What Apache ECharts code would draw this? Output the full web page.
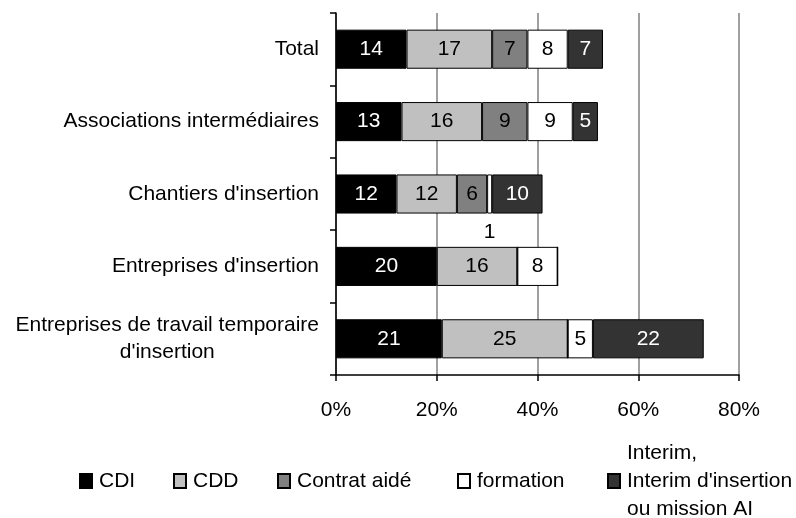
<!DOCTYPE html>
<html>
<head>
<meta charset="utf-8">
<script src="https://cdn.jsdelivr.net/npm/echarts@6/dist/echarts.min.js"></script>
<style>
  html, body { margin: 0; padding: 0; background: #fff; }
  #chart { width: 796px; height: 518px; }
</style>
</head>
<body>
<div id="chart"></div>
<script>
// Categories (top to bottom) and the share of each outcome, in %
const categories = [
  'Total',
  'Associations intermédiaires',
  "Chantiers d'insertion",
  "Entreprises d'insertion",
  "Entreprises de travail temporaire\nd'insertion"
];
const cdi         = [14, 13, 12, 20, 21];
const cdd         = [17, 16, 12, 16, 25];
const contratAide = [7, 9, 6, 0, 0];
const formation   = [8, 9, 1, 8, 5];
const interim     = [7, 5, 10, 0, 22];

const xTicks = [0, 20, 40, 60, 80];

const seriesNames = ['CDI', 'CDD', 'Contrat aidé', 'formation', "Interim,\nInterim d'insertion\nou mission AI"];
const seriesValues = [cdi, cdd, contratAide, formation, interim];
const seriesColors = ['#000000', '#c0c0c0', '#808080', '#ffffff', '#333333'];
const labelColors  = ['#ffffff', '#000000', '#000000', '#000000', '#ffffff'];
const legendLeft   = [79, 173, 277, 457, 607];

const FONT = 'Liberation Sans, Arial, sans-serif';
const FS = 21;

const chart = echarts.init(document.getElementById('chart'), null, { renderer: 'canvas' });

const series = seriesValues.map((vals, i) => ({
  name: seriesNames[i],
  type: 'bar',
  stack: 'total',
  barCategoryGap: '46%',
  itemStyle: { color: seriesColors[i], borderColor: '#000', borderWidth: 1 },
  label: {
    show: true,
    position: 'inside',
    color: labelColors[i],
    fontSize: FS,
    fontFamily: FONT,
    formatter: p => (p.value ? String(p.value) : '')
  },
  // segments too narrow for their number get the label underneath
  data: vals.map(v => (v > 0 && v < 3)
    ? { value: v, label: { position: 'bottom', distance: 8, color: '#000' } }
    : v)
}));

const legends = seriesNames.map((name, i) => {
  const multi = name.indexOf('\n') >= 0;
  return {
    data: [{ name: name, icon: 'rect' }],
    left: legendLeft[i],
    top: multi ? 439 : 467,
    padding: 0,
    itemWidth: 12,
    itemHeight: 14,
    selectedMode: false,
    textStyle: {
      fontSize: FS,
      fontFamily: FONT,
      color: '#000',
      lineHeight: 28,
      padding: [0, 0, 0, 2]
    }
  };
});

chart.setOption({
  animation: false,
  backgroundColor: '#fff',
  grid: { left: 336, right: 57, top: 13, bottom: 143, containLabel: false },
  legend: legends,
  xAxis: {
    type: 'value',
    min: xTicks[0],
    max: xTicks[xTicks.length - 1],
    interval: xTicks[1] - xTicks[0],
    axisLine: { show: true, lineStyle: { color: '#000', width: 1.5 } },
    axisTick: { show: true, length: 6, lineStyle: { color: '#000', width: 1.5 } },
    axisLabel: {
      margin: 25,
      fontSize: FS,
      fontFamily: FONT,
      color: '#000',
      formatter: '{value}%'
    },
    splitLine: { show: true, lineStyle: { color: '#a0a0a0', width: 2 } }
  },
  yAxis: {
    type: 'category',
    inverse: true,
    data: categories,
    axisLine: { show: true, lineStyle: { color: '#000', width: 1.5 } },
    axisTick: { show: true, length: 6, lineStyle: { color: '#000', width: 1.5 } },
    axisLabel: {
      margin: 17,
      fontSize: FS,
      fontFamily: FONT,
      color: '#000',
      lineHeight: 27,
      formatter: v => v.indexOf('\n') >= 0
        ? v.split('\n').map(s => '{c|' + s + '}').join('\n')
        : v,
      rich: {
        c: { align: 'center', fontSize: FS, fontFamily: FONT, color: '#000', lineHeight: 27 }
      }
    }
  },
  series: series
});
</script>
</body>
</html>
